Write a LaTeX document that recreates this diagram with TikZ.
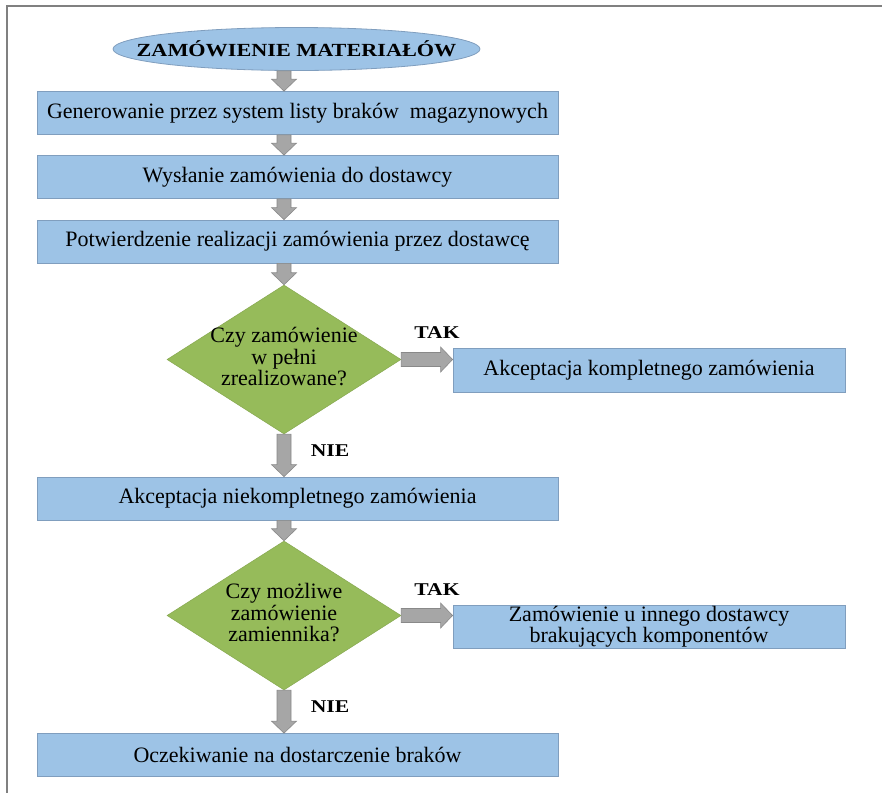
\documentclass[tikz,border=0pt]{standalone}
\usepackage{fontspec}
\setmainfont{Liberation Serif}
\newfontfamily\boldlbl[FakeStretch=1.2]{Liberation Serif}
\usetikzlibrary{shapes.geometric,calc}
\definecolor{boxfill}{RGB}{157,195,230}
\definecolor{boxline}{RGB}{128,158,190}
\definecolor{dfill}{RGB}{150,187,90}
\definecolor{afill}{RGB}{166,166,166}
\definecolor{aline}{RGB}{137,137,137}
\definecolor{framegray}{RGB}{128,128,128}
\newcommand\vblk[2]{\path[blk] let \p1=(#1), \p2=(#2) in (\x1-7pt,\y1) -- (\x1+7pt,\y1) -- (\x1+7pt,\y2+12pt) -- (\x1+12.5pt,\y2+12pt) -- (\x1,\y2) -- (\x1-12.5pt,\y2+12pt) -- (\x1-7pt,\y2+12pt) -- cycle;}
\newcommand\hblk[2]{\path[blk] let \p1=(#1), \p2=(#2) in (\x1,\y1+7pt) -- (\x2-12pt,\y1+7pt) -- (\x2-12pt,\y1+12.5pt) -- (\x2,\y1) -- (\x2-12pt,\y1-12.5pt) -- (\x2-12pt,\y1-7pt) -- (\x1,\y1-7pt) -- cycle;}
\begin{document}
\begin{tikzpicture}[x=1pt,y=-1pt,
  box/.style={draw=boxline,fill=boxfill,line width=0.8pt,minimum height=43pt,inner sep=0pt,font=\fontsize{22}{21}\selectfont,align=center},
  wbox/.style={box,minimum width=521pt},
  rbox/.style={box,minimum width=392pt},
  dec/.style={diamond,draw=dfill!90!black,fill=dfill,line width=0.5pt,minimum width=234pt,minimum height=149pt,inner sep=0pt,font=\fontsize{22}{20.7}\selectfont},
  lbl/.style={font=\boldlbl\bfseries\fontsize{18}{20}\selectfont,inner sep=0pt},
  blk/.style={fill=afill,draw=aline,line width=0.6pt}]
\useasboundingbox (0,0) rectangle (882,793);
\draw[framegray,line width=2pt] (882,6) -- (7,6) -- (7,793);
\node[ellipse,draw=boxline,fill=boxfill,line width=0.8pt,minimum width=367pt,minimum height=43pt,inner sep=0pt,font=\boldlbl\bfseries\fontsize{18.5}{20}\selectfont] (start) at (296.5,49) {\makebox[0pt]{ZAMÓWIENIE MATERIAŁÓW}};
\node[wbox] (b1) at (297.5,113) {Generowanie przez system listy braków\ \ magazynowych};
\node[wbox] (b2) at (297.5,177) {Wysłanie zamówienia do dostawcy};
\node[wbox] (b3) at (297.5,241.5) {Potwierdzenie realizacji zamówienia przez dostawcę};
\node[dec] (d1) at (284,359.5) {\makebox[0pt]{\begin{tabular}{@{}c@{}}Czy zamówienie\\w pełni\\zrealizowane?\end{tabular}}};
\node[rbox,minimum height=44pt] (b5) at (649,370) {Akceptacja kompletnego zamówienia};
\node[wbox] (b4) at (297.5,498.5) {Akceptacja niekompletnego zamówienia};
\node[dec] (d2) at (284,615.5) {\makebox[0pt]{\begin{tabular}{@{}c@{}}Czy możliwe\\zamówienie\\zamiennika?\end{tabular}}};
\node[rbox] (b7) at (649,626.5) {Zamówienie u innego dostawcy\\brakujących komponentów};
\node[wbox] (b6) at (297.5,755) {Oczekiwanie na dostarczenie braków};
\node[lbl] (tak1) at (437,333) {TAK};
\node[lbl] (nie1) at (330,451) {NIE};
\node[lbl] (tak2) at (437,590) {TAK};
\node[lbl] (nie2) at (330,707) {NIE};
\vblk{start.south -| d1.north}{b1.north -| d1.north}
\vblk{b1.south -| d1.north}{b2.north -| d1.north}
\vblk{b2.south -| d1.north}{b3.north -| d1.north}
\vblk{b3.south -| d1.north}{d1.north}
\vblk{d1.south}{b4.north -| d1.south}
\vblk{b4.south -| d2.north}{d2.north}
\vblk{d2.south}{b6.north -| d2.south}
\hblk{d1.east}{b5.west}
\hblk{d2.east}{b7.west}
\end{tikzpicture}
\end{document}
